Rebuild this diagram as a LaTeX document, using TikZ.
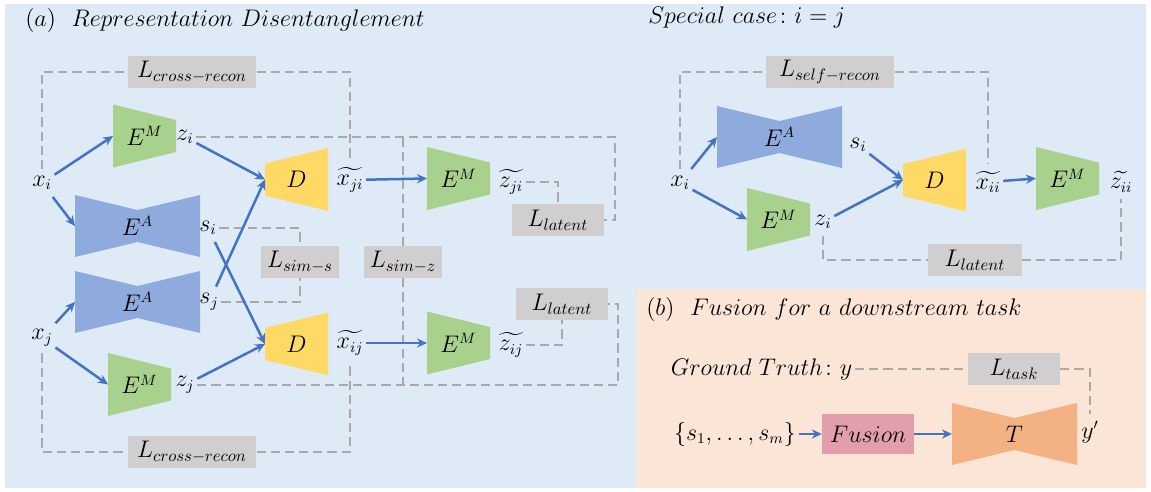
\documentclass[tikz,border=0pt]{standalone}
\usepackage{amsmath}
\usetikzlibrary{arrows.meta}

\definecolor{bgblue}{RGB}{222,235,247}
\definecolor{bgpeach}{RGB}{251,229,214}
\definecolor{lossgray}{RGB}{208,206,206}
\definecolor{dashgray}{RGB}{171,168,168}
\definecolor{arrowblue}{RGB}{68,114,196}
\definecolor{eablue}{RGB}{143,170,220}
\definecolor{emgreen}{RGB}{169,209,142}
\definecolor{dyellow}{RGB}{255,217,102}
\definecolor{torange}{RGB}{244,177,131}
\definecolor{fuspink}{RGB}{226,158,170}

\begin{document}
\begin{tikzpicture}[x=0.6pt,y=-0.6pt,
  lbl/.style={inner xsep=1.5pt,inner ysep=4pt,font=\fontsize{13.5}{15}\selectfont},
  ttl/.style={inner sep=0pt,anchor=west,font=\fontsize{14.5}{17}\selectfont},
  loss/.style={fill=lossgray,minimum height=19pt,inner sep=1pt,font=\fontsize{14}{16}\selectfont},
  arj/.style={line width=1.5pt,draw=arrowblue,-{Stealth[length=6pt,width=5.5pt]}},
  dsh/.style={line width=1.5pt,draw=dashgray,dash pattern=on 5.5pt off 3pt},
  pics/encM/.style={code={
    \fill[emgreen] (-31.5,-31.5) -- (31.5,-16) -- (31.5,16) -- (-31.5,31.5) -- cycle;
    \node[lbl] (-t) {$E^M$};
    \coordinate (-w) at (-31.5,0);}},
  pics/dec/.style={code={
    \fill[dyellow] (-31.5,-16) -- (31.5,-31.5) -- (31.5,31.5) -- (-31.5,16) -- cycle;
    \node[lbl] (-t) {$D$};
    \coordinate (-w) at (-31.5,0);}},
  pics/bowtie/.style args={#1/#2}{code={
    \fill[#1] (-62.5,-31) -- (0,-16) -- (62.5,-31) -- (62.5,31) -- (0,16) -- (-62.5,31) -- cycle;
    \node[lbl] (-t) {#2};
    \coordinate (-w) at (-62.5,0);}}]
\useasboundingbox (0,0) rectangle (1151,492);
\fill[bgblue] (5,4) rectangle (1146,488);
\fill[bgpeach] (637,289) rectangle (1146,488);

% (a) representation disentanglement
\node[ttl] (ttlA) at (25,20) {$(a)\ \ Representation\ Disentanglement$};
\pic (EM1) at (144.5,136) {encM};
\pic (EA1) at (137.5,226) {bowtie=eablue/$E^A$};
\pic (EA2) at (137.5,302) {bowtie=eablue/$E^A$};
\pic (EM2) at (139.5,384.5) {encM};
\pic (D1) at (296.5,179.5) {dec};
\pic (D2) at (296.5,344) {dec};
\pic (EM3) at (458.5,178.5) {encM};
\pic (EM4) at (458.5,343) {encM};

\node[lbl] (xi) at (42,183) {$x_i$};
\node[lbl] (xj) at (42,338) {$x_j$};
\node[lbl] (zi) at (185,137) {$z_i$};
\node[lbl] (zj) at (185,385) {$z_j$};
\node[lbl] (si) at (208,228) {$s_i$};
\node[lbl] (sj) at (209,302) {$s_j$};
\node[lbl] (xji) at (350,180) {$\widetilde{x_{ji}}$};
\node[lbl] (xij) at (350,343) {$\widetilde{x_{ij}}$};
\node[lbl] (zji) at (511,182) {$\widetilde{z_{ji}}$};
\node[lbl] (zij) at (511,345) {$\widetilde{z_{ij}}$};

\node[loss,minimum width=77pt] (Lcr1) at (192,72) {$L_{cross-recon}$};
\node[loss,minimum width=77pt] (Lcr2) at (192,452) {$L_{cross-recon}$};
\node[loss,minimum width=47pt] (Lss) at (300,262) {$L_{sim-s}$};
\node[loss,minimum width=47pt] (Lsz) at (403,262) {$L_{sim-z}$};
\node[loss,minimum width=55pt] (Llat1) at (558,220) {$L_{latent}$};
\node[loss,minimum width=55pt] (Llat2) at (562,304) {$L_{latent}$};

\draw[dsh] (xi.north) |- (Lcr1.west);
\draw[dsh] (Lcr1.east) -| (xji.north);
\draw[dsh] (xj.south) |- (Lcr2.west);
\draw[dsh] (Lcr2.east) -| (xij.south);
\draw[dsh] (zi.east) -| ([xshift=6.5pt]Llat1.east) -- (Llat1.east);
\draw[dsh] (zj.east) -| ([xshift=6pt]Llat2.east) -- (Llat2.east);
\draw[dsh] (Lsz.north) -- (Lsz.north |- zi.east);
\draw[dsh] (Lsz.south) -- (Lsz.south |- zj.east);
\draw[dsh] (si.east) -| (Lss.north);
\draw[dsh] (sj.east) -| (Lss.south);
\draw[dsh] (zji.east) -| (Llat1.north);
\draw[dsh] (zij.east) -| (Llat2.south);

\draw[arj] (xi) -- (EM1-w);
\draw[arj] (xi) -- (EA1-w);
\draw[arj] (xj) -- (EA2-w);
\draw[arj] (xj) -- (EM2-w);
\draw[arj] (zi) -- (D1-w);
\draw[arj] (sj) -- (D1-w);
\draw[arj] (si) -- (D2-w);
\draw[arj] (zj) -- (D2-w);
\draw[arj] (xji) -- (EM3-w);
\draw[arj] (xij) -- (EM4-w);

% special case i = j
\node[ttl] (ttlS) at (648,18) {$Special\ case\colon i=j$};
\pic (EAs) at (779.5,137) {bowtie=eablue/$E^A$};
\pic (EMs) at (778.5,219.5) {encM};
\pic (Ds) at (934.5,180) {dec};
\pic (EMs2) at (1067.5,178.5) {encM};

\node[lbl] (xs) at (680,183) {$x_i$};
\node[lbl] (ss) at (858,145) {$s_i$};
\node[lbl] (zs) at (823,222) {$z_i$};
\node[lbl] (xii) at (988,182) {$\widetilde{x_{ii}}$};
\node[lbl] (zii) at (1121,182) {$\widetilde{z_{ii}}$};

\node[loss,minimum width=77pt] (Lsr) at (830,72) {$L_{self-recon}$};
\node[loss,minimum width=56pt] (Llat3) at (975,260) {$L_{latent}$};

\draw[dsh] (xs.north) |- (Lsr.west);
\draw[dsh] (Lsr.east) -| (xii.north);
\draw[dsh] (zs.south) |- (Llat3.west);
\draw[dsh] (Llat3.east) -| (zii.south);

\draw[arj] (xs) -- (EAs-w);
\draw[arj] (xs) -- (EMs-w);
\draw[arj] (ss) -- (Ds-w);
\draw[arj] (zs) -- (Ds-w);
\draw[arj] (xii) -- (EMs2-w);

% (b) fusion
\node[ttl] (ttlB) at (646,309) {$(b)\ \ Fusion\ for\ a\ downstream\ task$};
\node[lbl,anchor=east] (gt) at (855,369) {$Ground\ Truth\colon y$};
\node[loss,minimum width=55pt] (Ltask) at (1014,369) {$L_{task}$};
\node[lbl] (set) at (735,434) {$\{s_1,\ldots,s_m\}$};
\node[loss,fill=fuspink,minimum width=55pt,minimum height=24pt] (Fus) at (868,434) {$Fusion$};
\pic (T) at (1014.5,434) {bowtie=torange/$T$};
\node[lbl] (yp) at (1090,432) {$y'$};

\draw[dsh] (gt.east) -- (Ltask.west);
\draw[dsh] (Ltask.east) -| (yp.north);
\draw[arj] (set) -- (Fus);
\draw[arj] (Fus) -- (T-w);
\end{tikzpicture}
\end{document}
